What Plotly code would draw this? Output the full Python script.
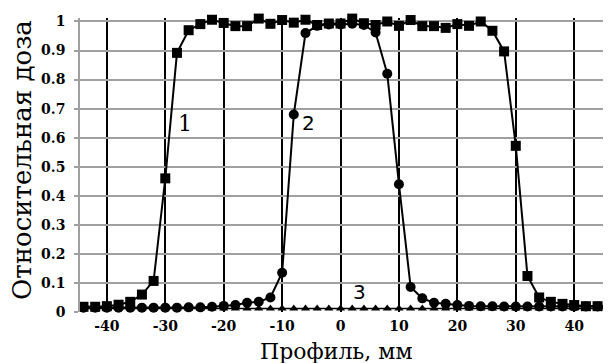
import plotly.graph_objects as go

# Profile positions, mm
x_mm = [-44, -42, -40, -38, -36, -34, -32, -30, -28, -26, -24, -22, -20, -18, -16, -14,
        -12, -10, -8, -6, -4, -2, 0, 2, 4, 6, 8, 10, 12, 14, 16, 18, 20, 22, 24, 26,
        28, 30, 32, 34, 36, 38, 40, 42, 44, 46]

# Curve 1 (squares)
dose_1 = [0.018, 0.018, 0.020, 0.025, 0.035, 0.060, 0.107, 0.460, 0.892, 0.970,
          0.991, 1.006, 0.995, 0.984, 0.984, 1.010, 0.992, 1.005, 0.996, 1.006,
          0.988, 0.993, 0.993, 1.010, 0.994, 0.988, 1.000, 0.985, 1.005, 0.984,
          0.984, 0.978, 0.991, 0.985, 1.000, 0.968, 0.897, 0.572, 0.124, 0.050,
          0.035, 0.028, 0.024, 0.020, 0.020, 0.020]

# Curve 2 (circles)
dose_2 = [0.015, 0.015, 0.015, 0.015, 0.015, 0.015, 0.015, 0.015, 0.015, 0.016,
          0.016, 0.018, 0.021, 0.024, 0.032, 0.035, 0.050, 0.135, 0.680, 0.960,
          0.985, 0.990, 0.990, 0.992, 0.988, 0.962, 0.820, 0.440, 0.086, 0.047,
          0.032, 0.028, 0.024, 0.021, 0.020, 0.020, 0.019, 0.019, 0.019, 0.019,
          0.019, 0.019, 0.019, 0.019, 0.019, 0.019]

# Curve 3 (triangles)
dose_3 = [0.012, 0.012, 0.012, 0.012, 0.012, 0.012, 0.012, 0.012, 0.012, 0.012,
          0.012, 0.012, 0.012, 0.012, 0.012, 0.012, 0.012, 0.012, 0.012, 0.012,
          0.012, 0.012, 0.012, 0.012, 0.012, 0.012, 0.012, 0.012, 0.012, 0.012,
          0.012, 0.012, 0.012, 0.012, 0.012, 0.012, 0.012, 0.012, 0.012, 0.012,
          0.012, 0.012, 0.012, 0.012, 0.012, 0.012]

x_tick_vals = [-40, -30, -20, -10, 0, 10, 20, 30, 40]
x_tick_text = ["-40", "-30", "-20", "-10", "0", "10", "20", "30", "40"]
y_tick_vals = [0, 0.1, 0.2, 0.3, 0.4, 0.5, 0.6, 0.7, 0.8, 0.9, 1.0]
y_tick_text = ["0", "0.1", "0.2", "0.3", "0.4", "0.5", "0.6", "0.7", "0.8", "0.9", "1"]

curve_labels = ["1", "2", "3"]
label_x = [-26.6, -5.5, 3.2]
label_y = [0.65, 0.65, 0.068]

serif = "DejaVu Serif"
sans = "DejaVu Sans"

fig = go.Figure()
fig.add_trace(go.Scatter(x=x_mm, y=dose_3, mode="lines+markers",
                         line=dict(color="black", width=1.5),
                         marker=dict(symbol="triangle-up", size=8, color="black"),
                         cliponaxis=False))
fig.add_trace(go.Scatter(x=x_mm, y=dose_2, mode="lines+markers",
                         line=dict(color="black", width=2),
                         marker=dict(symbol="circle", size=10, color="black"),
                         cliponaxis=False))
fig.add_trace(go.Scatter(x=x_mm, y=dose_1, mode="lines+markers",
                         line=dict(color="black", width=2),
                         marker=dict(symbol="square", size=10, color="black"),
                         cliponaxis=False))

fonts = [serif, sans, sans]
sizes = [22, 20, 20]
for t, lx, ly, fnt, fs in zip(curve_labels, label_x, label_y, fonts, sizes):
    fig.add_annotation(x=lx, y=ly, text=t, showarrow=False,
                       font=dict(family=fnt, size=fs, color="black"))

# page body adds an 8px offset; figure is sized to fill the rest of the window
Y_TOP = 1.012
plot_h = 294.0
fig.add_annotation(xref="paper", yref="paper", x=(22 - 80) / 531,
                   y=(312 - 160) / plot_h,
                   text="Относительная доза", textangle=-90, showarrow=False,
                   xanchor="center", yanchor="middle",
                   font=dict(family=serif, size=26, color="black"))
fig.add_annotation(xref="paper", yref="paper", x=(336 - 80) / 531,
                   y=-(337 - 312) / plot_h,
                   text="Профиль, мм", showarrow=False,
                   xanchor="center", yanchor="top",
                   font=dict(family=serif, size=22, color="black"))

fig.update_layout(
    width=603, height=355,
    margin=dict(l=72, r=0, t=10, b=51),
    paper_bgcolor="white", plot_bgcolor="white",
    showlegend=False,
    font=dict(family=serif),
    xaxis=dict(range=[-44.6, 46.3], tickvals=x_tick_vals, ticktext=x_tick_text,
               showgrid=True, gridcolor="black", gridwidth=1.5,
               zeroline=False, showline=False, ticks="",
               ticklabelstandoff=4,
               tickfont=dict(family=serif, size=14, color="black", weight="bold")),
    yaxis=dict(range=[0, Y_TOP], tickvals=y_tick_vals, ticktext=y_tick_text,
               showgrid=True, gridcolor="#a0a0a0", gridwidth=1.5,
               zeroline=False, showline=True, linecolor="#a0a0a0", linewidth=1.5,
               ticks="outside", ticklen=4, tickcolor="#a0a0a0", tickwidth=1.5,
               ticklabelstandoff=6,
               tickfont=dict(family=serif, size=14, color="black", weight="bold")),
)

fig.write_html("out.html")
